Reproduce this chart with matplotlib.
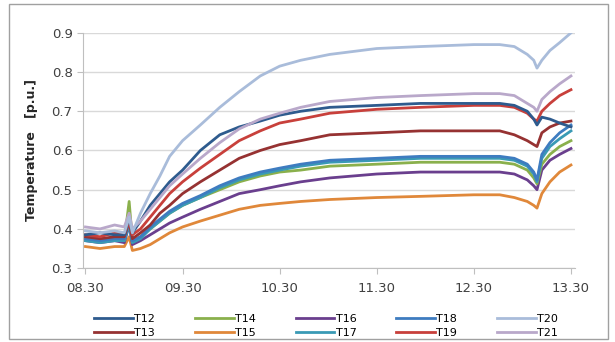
import matplotlib.pyplot as plt
from matplotlib.patches import Rectangle

# minutes after 08:30
minutes = [0, 9, 18, 24, 27, 29, 34, 40, 46, 52, 60, 71, 83, 95, 108, 120, 133, 151,
           180, 207, 240, 256, 265, 273, 277, 279, 282, 287, 293, 300]

T12 = [0.385, 0.39, 0.385, 0.385, 0.43, 0.39, 0.42, 0.46, 0.49, 0.52, 0.55, 0.60, 0.64, 0.66,
       0.675, 0.69, 0.70, 0.71, 0.715, 0.72, 0.72, 0.72, 0.715, 0.70, 0.68, 0.665, 0.685, 0.68,
       0.67, 0.66]
T13 = [0.38, 0.375, 0.38, 0.38, 0.42, 0.375, 0.39, 0.41, 0.44, 0.46, 0.49, 0.52, 0.55, 0.58,
       0.60, 0.615, 0.625, 0.64, 0.645, 0.65, 0.65, 0.65, 0.64, 0.625, 0.615, 0.61, 0.645, 0.66,
       0.67, 0.675]
T14 = [0.375, 0.37, 0.375, 0.37, 0.47, 0.37, 0.38, 0.40, 0.42, 0.44, 0.46, 0.48, 0.50, 0.52,
       0.535, 0.545, 0.55, 0.56, 0.565, 0.57, 0.57, 0.57, 0.565, 0.55, 0.53, 0.515, 0.565, 0.59,
       0.61, 0.625]
T15 = [0.355, 0.35, 0.355, 0.355, 0.38, 0.345, 0.35, 0.36, 0.375, 0.39, 0.405, 0.42, 0.435, 0.45,
       0.46, 0.465, 0.47, 0.475, 0.48, 0.483, 0.487, 0.487, 0.48, 0.47, 0.46, 0.453, 0.49, 0.52,
       0.545, 0.563]
T16 = [0.37, 0.365, 0.37, 0.365, 0.41, 0.36, 0.37, 0.385, 0.40, 0.415, 0.43, 0.45, 0.47, 0.49,
       0.50, 0.51, 0.52, 0.53, 0.54, 0.545, 0.545, 0.545, 0.54, 0.525, 0.51, 0.50, 0.55, 0.575,
       0.59, 0.605]
T17 = [0.37, 0.365, 0.37, 0.37, 0.41, 0.365, 0.375, 0.40, 0.42, 0.44, 0.46, 0.48, 0.505, 0.525,
       0.54, 0.55, 0.56, 0.57, 0.575, 0.58, 0.58, 0.58, 0.575, 0.56, 0.54, 0.52, 0.58, 0.61,
       0.63, 0.65]
T18 = [0.375, 0.37, 0.375, 0.375, 0.42, 0.37, 0.38, 0.405, 0.425, 0.445, 0.465, 0.485, 0.51, 0.53,
       0.545, 0.555, 0.565, 0.575, 0.58, 0.585, 0.585, 0.585, 0.58, 0.565, 0.545, 0.525, 0.59, 0.62,
       0.645, 0.665]
T19 = [0.385, 0.38, 0.39, 0.385, 0.42, 0.385, 0.40, 0.43, 0.46, 0.49, 0.52, 0.555, 0.59, 0.625,
       0.65, 0.67, 0.68, 0.695, 0.705, 0.71, 0.715, 0.715, 0.71, 0.695, 0.68, 0.675, 0.70, 0.72,
       0.74, 0.755]
T20 = [0.395, 0.39, 0.395, 0.39, 0.43, 0.39, 0.44, 0.49, 0.535, 0.585, 0.625, 0.665, 0.71, 0.75,
       0.79, 0.815, 0.83, 0.845, 0.86, 0.865, 0.87, 0.87, 0.865, 0.845, 0.83, 0.81, 0.83, 0.855,
       0.875, 0.90]
T21 = [0.405, 0.40, 0.41, 0.405, 0.44, 0.40, 0.42, 0.45, 0.48, 0.51, 0.54, 0.58, 0.62, 0.655,
       0.68, 0.695, 0.71, 0.725, 0.735, 0.74, 0.745, 0.745, 0.74, 0.72, 0.71, 0.70, 0.73, 0.75,
       0.77, 0.79]

names = ['T12', 'T13', 'T14', 'T15', 'T16', 'T17', 'T18', 'T19', 'T20', 'T21']
series = [T12, T13, T14, T15, T16, T17, T18, T19, T20, T21]
colors = ['#2E5B8E', '#963232', '#8AB04C', '#E0883A', '#6A3F8E',
          '#3A9AB5', '#3E7CC0', '#C8403B', '#A9BCDA', '#B9A8CA']

tick_pos = [0, 60, 120, 180, 240, 300]
tick_lab = ['08.30', '09.30', '10.30', '11.30', '12.30', '13.30']

fig = plt.figure(figsize=(6.15, 3.42), dpi=100)
ax = fig.add_axes([0.135, 0.216, 0.8, 0.688])

# draw top series last so they sit above the rest like the original
order = [3, 4, 2, 5, 6, 1, 7, 0, 9, 8]
lines = {}
for i in order:
    ln, = ax.plot(minutes, series[i], color=colors[i], lw=2.0, label=names[i])
    lines[i] = ln

ax.set_xlim(-1.5, 302.5)
ax.set_ylim(0.3, 0.9)
ax.set_yticks([0.3, 0.4, 0.5, 0.6, 0.7, 0.8, 0.9])
ax.set_xticks(tick_pos)
ax.set_xticklabels(tick_lab)
ax.yaxis.grid(True, color='#D9D9D9', lw=1)
ax.set_axisbelow(True)
for s in ['top', 'right']:
    ax.spines[s].set_visible(False)
for s in ['left', 'bottom']:
    ax.spines[s].set_color('#BFBFBF')
ax.tick_params(axis='both', colors='#BFBFBF', labelcolor='#404040', labelsize=9.5, length=4)
ax.tick_params(axis='x', pad=6)
ax.set_ylabel('Temperature   [p.u.]', fontsize=9, fontweight='bold', color='#262626', labelpad=10)

handles = [lines[i] for i in range(10)]
fig.legend(handles, names, loc='lower center', ncol=5, bbox_to_anchor=(0.53, -0.015),
           frameon=False, fontsize=8, handlelength=3.5, handletextpad=0.1,
           columnspacing=3.6, labelspacing=0.35, borderaxespad=0.4)

fig.patches.append(Rectangle((9 / 615, 0.01), 599 / 615, 0.978, transform=fig.transFigure,
                             fill=False, edgecolor='#A0A0A0', lw=1))

fig.savefig('out.png', dpi=100)
